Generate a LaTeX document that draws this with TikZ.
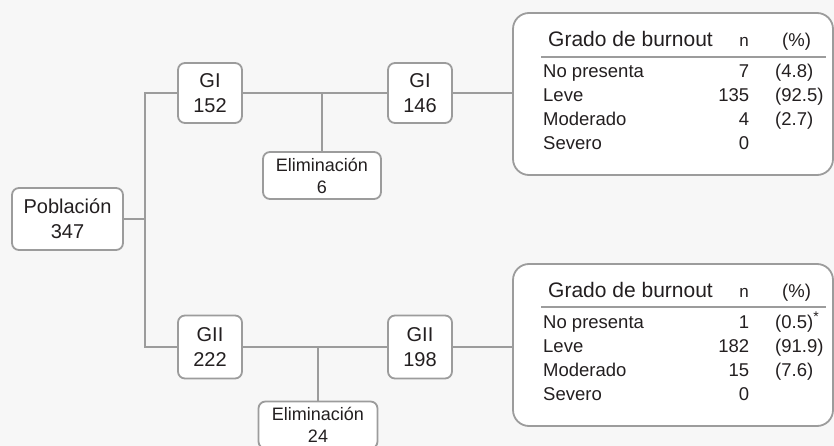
\documentclass[tikz,border=0pt]{standalone}
\usepackage{fontspec}
\setmainfont{Liberation Sans}
\usetikzlibrary{positioning}

\definecolor{linegray}{HTML}{9C9C9C}
\definecolor{bggray}{HTML}{F7F7F7}
\definecolor{inkgray}{HTML}{231F20}

\tikzset{
  box/.style={draw=linegray, line width=1.8pt, fill=white, rounded corners=7pt,
    align=center, text=inkgray, inner sep=0pt, font=\fontsize{20}{25}\selectfont},
  elimbox/.style={box, font=\fontsize{18}{22}\selectfont},
  tablebox/.style={draw=linegray, line width=1.8pt, fill=white, rounded corners=16pt,
    minimum width=320pt, minimum height=162pt, inner sep=0pt},
  conn/.style={draw=linegray, line width=1.8pt},
  rowtext/.style={text=inkgray, inner sep=0pt, font=\fontsize{18.5}{24}\selectfont},
  headtext/.style={text=inkgray, inner sep=0pt, font=\fontsize{21}{25}\selectfont},
}

\begin{document}
\begin{tikzpicture}[x=1pt,y=-1pt]
    % background and page size
    \fill[bggray] (0,0) rectangle (834,446);
    \useasboundingbox (0,0) rectangle (834,446);

    % Population and groups
    \node[box, minimum width=111pt, minimum height=62pt] (pob) at (67.5,219) {Población\\347};
    \coordinate (split) at (145,219);
    \node[box, minimum width=64pt, minimum height=60pt] (gi152) at (210,93) {GI\\152};
    \node[box, minimum width=64pt, minimum height=60pt] (gi146) at (420,93) {GI\\146};
    \node[elimbox, minimum width=118pt, minimum height=47pt] (elim6) at (322,175.5) {Eliminación\\6};
    \node[box, minimum width=64pt, minimum height=63pt] (gii222) at (210,347) {GII\\222};
    \node[box, minimum width=64pt, minimum height=63pt] (gii198) at (420,347) {GII\\198};
    \node[elimbox, minimum width=119pt, minimum height=47pt] (elim24) at (318,425) {Eliminación\\24};

    % Tables
    \node[tablebox] (tabi) at (673,94) {};
    \node[tablebox] (tabii) at (673,345) {};

    % Connectors
    \draw[conn] (pob.east) -- (split);
    \draw[conn] (gi152.west) -| (split);
    \draw[conn] (gii222.west) -| (split);
    \draw[conn] (gi152.east) -- (gi146.west);
    \draw[conn] (elim6.north) -- (elim6.north |- gi152.east);
    \draw[conn] (gii222.east) -- (gii198.west);
    \draw[conn] (elim24.north) -- (elim24.north |- gii222.east);
    \draw[conn] (gi146.east) -- (gi146.east -| tabi.west);
    \draw[conn] (gii198.east) -- (gii198.east -| tabii.west);

    % Table GI
    \node[headtext, anchor=base west] (hi) at (548,47) {Grado de burnout};
    \node[rowtext, font=\fontsize{17}{20}\selectfont, anchor=base east] (ni) at (749,47) {n};
    \node[rowtext, anchor=base west] (pi) at (782,47) {(\%)};
    \draw[conn, line width=1.5pt] (541,57) -- (826,57);
    \foreach \lab/\num/\pct [count=\i] in {No presenta/7/(4.8), Leve/135/(92.5), Moderado/4/(2.7), Severo/0/{}}
        \node[rowtext, anchor=base west] (ri\i) at (543,{54+24*\i}) {\makebox[206pt][l]{\lab\hfill\num}\hspace{26pt}\pct};

    % Table GII
    \node[headtext, anchor=base west] (hii) at (548,297) {Grado de burnout};
    \node[rowtext, font=\fontsize{17}{20}\selectfont, anchor=base east] (nii) at (749,297) {n};
    \node[rowtext, anchor=base west] (pii) at (782,297) {(\%)};
    \draw[conn, line width=1.5pt] (541,307) -- (826,307);
    \foreach \lab/\num/\pct [count=\i] in {No presenta/1/{(0.5)\raisebox{7pt}{\fontsize{14}{14}\selectfont*}}, Leve/182/(91.9), Moderado/15/(7.6), Severo/0/{}}
        \node[rowtext, anchor=base west] (rii\i) at (543,{304+24*\i}) {\makebox[206pt][l]{\lab\hfill\num}\hspace{26pt}\pct};

\end{tikzpicture}
\end{document}
